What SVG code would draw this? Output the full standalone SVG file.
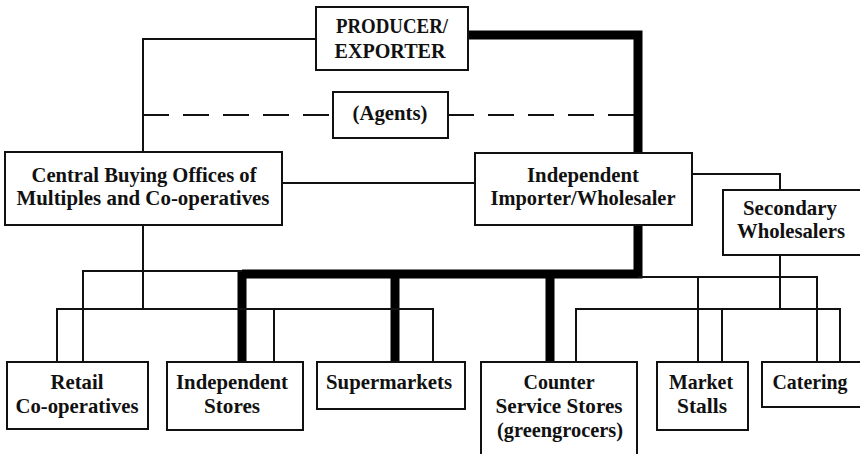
<svg xmlns="http://www.w3.org/2000/svg" width="860" height="454" viewBox="0 0 860 454">
<style>
.box{fill:#fff;stroke:#111;stroke-width:2}
.thin{fill:none;stroke:#111;stroke-width:2}
.thick{fill:none;stroke:#000;stroke-width:9}
.dash{fill:none;stroke:#111;stroke-width:2;stroke-dasharray:26,14}
text{font-family:"Liberation Serif","Times New Roman",serif;font-weight:bold;font-size:21px;fill:#111;text-anchor:middle}
</style>
<rect width="860" height="454" fill="#fff"/>
<g id="connectors">
<polyline class="thin" points="316,39 143,39 143,152"/>
<line class="dash" x1="143" y1="115" x2="333" y2="115"/>
<line class="dash" x1="448" y1="115" x2="638" y2="115"/>
<polyline class="thick" points="468,35 638,35 638,153"/>
<line class="thin" x1="282" y1="183" x2="475" y2="183"/>
<polyline class="thin" points="692,174 780,174 780,190"/>
<polyline class="thick" points="638,225 638,274 242,274"/>
<line class="thick" x1="242" y1="270" x2="242" y2="362"/>
<line class="thick" x1="395" y1="270" x2="395" y2="362"/>
<line class="thick" x1="550" y1="270" x2="550" y2="362"/>
<polyline class="thin" points="143,225 143,309"/>
<polyline class="thin" points="242,271 83,271 83,362"/>
<polyline class="thin" points="57,362 57,309 433,309 433,362"/>
<line class="thin" x1="274" y1="309" x2="274" y2="362"/>
<polyline class="thin" points="638,277 817,277 817,362"/>
<line class="thin" x1="698" y1="277" x2="698" y2="362"/>
<line class="thin" x1="780" y1="255" x2="780" y2="309"/>
<polyline class="thin" points="576,362 576,309 840,309 840,362"/>
<line class="thin" x1="722" y1="309" x2="722" y2="362"/>
</g>
<g id="producer">
<rect class="box" x="316" y="7" width="152" height="63"/>
<text x="392" y="33" textLength="112" lengthAdjust="spacingAndGlyphs">PRODUCER/</text>
<text x="390" y="58" textLength="111" lengthAdjust="spacingAndGlyphs">EXPORTER</text>
</g>
<g id="agents">
<rect class="box" x="333" y="92" width="115" height="46"/>
<text x="390" y="120" textLength="75" lengthAdjust="spacingAndGlyphs">(Agents)</text>
</g>
<g id="central">
<rect class="box" x="5" y="152" width="277" height="73"/>
<text x="144" y="182" textLength="225" lengthAdjust="spacingAndGlyphs">Central Buying Offices of</text>
<text x="143" y="205" textLength="253" lengthAdjust="spacingAndGlyphs">Multiples and Co-operatives</text>
</g>
<g id="importer">
<rect class="box" x="475" y="153" width="217" height="72"/>
<text x="583" y="182" textLength="112" lengthAdjust="spacingAndGlyphs">Independent</text>
<text x="583" y="205" textLength="185" lengthAdjust="spacingAndGlyphs">Importer/Wholesaler</text>
</g>
<g id="secondary">
<rect class="box" x="723" y="190" width="150" height="65"/>
<text x="790" y="215" textLength="94" lengthAdjust="spacingAndGlyphs">Secondary</text>
<text x="791" y="238" textLength="108" lengthAdjust="spacingAndGlyphs">Wholesalers</text>
</g>
<g id="retail">
<rect class="box" x="7" y="362" width="141" height="67"/>
<text x="77" y="389" textLength="53" lengthAdjust="spacingAndGlyphs">Retail</text>
<text x="77" y="413" textLength="123" lengthAdjust="spacingAndGlyphs">Co-operatives</text>
</g>
<g id="independent-stores">
<rect class="box" x="167" y="362" width="136" height="68"/>
<text x="232" y="389" textLength="112" lengthAdjust="spacingAndGlyphs">Independent</text>
<text x="232" y="413" textLength="56" lengthAdjust="spacingAndGlyphs">Stores</text>
</g>
<g id="supermarkets">
<rect class="box" x="317" y="362" width="148" height="47"/>
<text x="389" y="389" textLength="126" lengthAdjust="spacingAndGlyphs">Supermarkets</text>
</g>
<g id="counter">
<rect class="box" x="481" y="362" width="156" height="100"/>
<text x="559" y="389" textLength="71" lengthAdjust="spacingAndGlyphs">Counter</text>
<text x="559" y="413" textLength="127" lengthAdjust="spacingAndGlyphs">Service Stores</text>
<text x="560" y="437" textLength="126" lengthAdjust="spacingAndGlyphs">(greengrocers)</text>
</g>
<g id="market">
<rect class="box" x="657" y="362" width="91" height="68"/>
<text x="701" y="389" textLength="64" lengthAdjust="spacingAndGlyphs">Market</text>
<text x="702" y="413" textLength="50" lengthAdjust="spacingAndGlyphs">Stalls</text>
</g>
<g id="catering">
<rect class="box" x="762" y="362" width="110" height="45"/>
<text x="810" y="389" textLength="75" lengthAdjust="spacingAndGlyphs">Catering</text>
</g>
</svg>
